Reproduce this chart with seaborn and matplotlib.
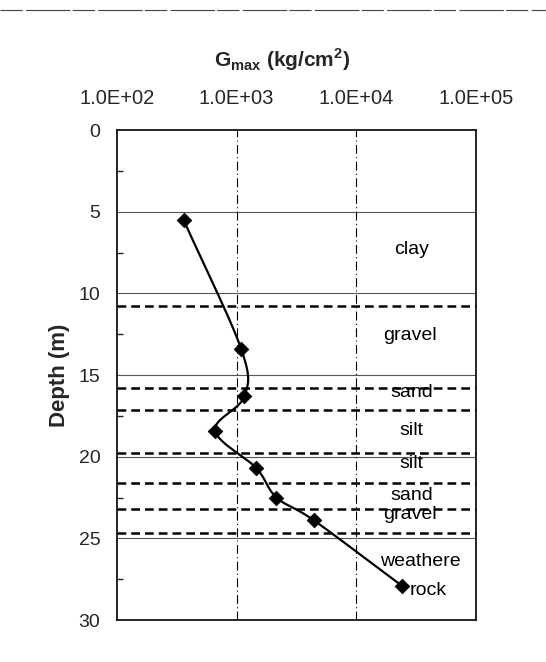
import numpy as np
import pandas as pd
import matplotlib
matplotlib.use("Agg")
import matplotlib.pyplot as plt
import matplotlib.transforms as mtrans
import seaborn as sns

depth = [5.5, 13.4, 16.3, 18.4, 20.7, 22.5, 23.9, 27.9]
gmax = [360, 1090, 1160, 660, 1460, 2150, 4420, 24000]
boundaries = [10.75, 15.8, 17.15, 19.75, 21.6, 23.2, 24.65]
layer_names = ["clay", "gravel", "sand", "silt", "silt", "sand", "gravel", "weathere", "rock"]
layer_depths = [7.3, 12.6, 16.05, 18.4, 20.4, 22.4, 23.55, 26.4, 28.2]
layer_x = [29000, 28000, 29000, 29000, 29000, 29000, 28000, 34000, 40000]
xticks = [1e2, 1e3, 1e4, 1e5]
xticklabels = ["1.0E+02", "1.0E+03", "1.0E+04", "1.0E+05"]
yticks = [0, 5, 10, 15, 20, 25, 30]

sns.set_theme(style="white")
plt.rcParams["font.family"] = ["Liberation Sans", "DejaVu Sans"]

fig = plt.figure(figsize=(5.46, 6.62), dpi=100)
ax = fig.add_axes([0.2143, 0.0634, 0.6575, 0.7402])

# Catmull-Rom smoothing in (log x, depth) space for the drawn curve
lx = np.log10(gmax)
d = np.array(depth)
P = np.column_stack([lx / 3.0, d / 30.0 * (490 / 359)])
pts = np.vstack([P[0] * 2 - P[1], P, P[-1] * 2 - P[-2]])
curve = []
tt = np.linspace(0, 1, 30)
for i in range(1, len(pts) - 2):
    p0, p1, p2, p3 = pts[i - 1], pts[i], pts[i + 1], pts[i + 2]
    for t in tt:
        c = 0.5 * ((2 * p1) + (-p0 + p2) * t + (2 * p0 - 5 * p1 + 4 * p2 - p3) * t ** 2
                   + (-p0 + 3 * p1 - 3 * p2 + p3) * t ** 3)
        curve.append(c)
curve = np.array(curve)
cx = 10 ** (curve[:, 0] * 3.0)
cy = curve[:, 1] * 30.0 / (490 / 359)
ax.plot(cx, cy, color="black", lw=1.6, zorder=4)

df = pd.DataFrame({"G": gmax, "Depth": depth})
sns.scatterplot(data=df, x="G", y="Depth", ax=ax, marker="D", s=55, color="black",
                edgecolor="black", zorder=5)

ax.set_xscale("log")
ax.set_xlim(1e2, 1e5)
ax.set_ylim(30, 0)

for yv in yticks[1:-1]:
    ax.axhline(yv, color="#555555", lw=0.8, zorder=1)
for xv in [1e3, 1e4]:
    ax.axvline(xv, color="black", lw=0.8, ls=(0, (8, 3, 1, 3)), zorder=1)
for b in boundaries:
    ax.axhline(b, color="black", lw=1.8, ls=(0, (3.5, 2)), zorder=2)

for name, yv, xv in zip(layer_names, layer_depths, layer_x):
    ax.text(xv, yv, name, ha="center", va="center", fontsize=14, color="black", zorder=6)

ax.xaxis.tick_top()
ax.xaxis.set_label_position("top")
ax.set_xticks(xticks)
ax.set_xticklabels(xticklabels, fontsize=14.5)
ax.xaxis.set_minor_locator(matplotlib.ticker.NullLocator())
shift = mtrans.ScaledTranslation(-11 / 100, 0, fig.dpi_scale_trans)
for lab in ax.get_xticklabels():
    lab.set_transform(lab.get_transform() + shift)
ax.set_yticks(yticks)
ax.set_yticklabels([str(v) for v in yticks], fontsize=14)
ax.set_yticks(np.arange(2.5, 30, 5), minor=True)
ax.tick_params(axis="x", which="both", length=0, pad=16)
ax.tick_params(axis="y", which="major", length=0, pad=12)
ax.tick_params(axis="y", which="minor", length=4, direction="in", left=True)
ax.set_xlabel(r"G$_{\mathregular{max}}$ (kg/cm$^{\mathregular{2}}$)", fontsize=15,
              fontweight="bold")
ax.xaxis.set_label_coords(0.46, 1.143)
ax.xaxis.label.set_va("center")
ax.set_ylabel("Depth (m)", fontsize=16, labelpad=6, fontweight="bold")

for s in ax.spines.values():
    s.set_color("black")
    s.set_linewidth(1.2)

fig.add_artist(plt.Line2D([0, 1], [0.985, 0.985], color="#444444", lw=0.8,
                          ls=(0, (20, 3, 40, 2)), transform=fig.transFigure))

fig.savefig("out.png", dpi=100, facecolor="white")
